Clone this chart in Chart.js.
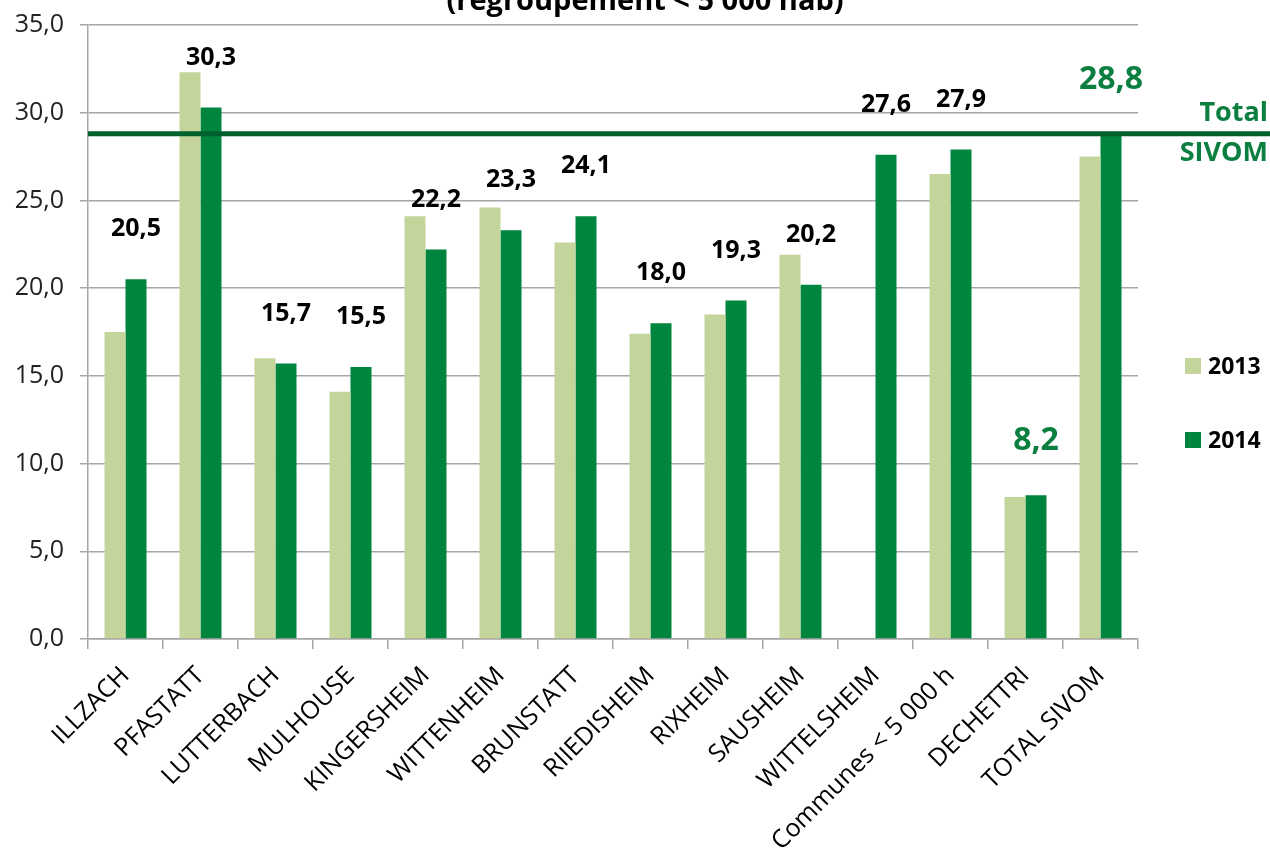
<!DOCTYPE html>
<html>
<head>
<meta charset="utf-8">
<script src="https://cdn.jsdelivr.net/npm/chart.js@4.4.1/dist/chart.umd.min.js"></script>
<style>
  html, body { margin: 0; padding: 0; background: #fff; overflow: hidden; }
  #wrap { position: relative; width: 1270px; height: 864px; }
</style>
</head>
<body>
<div id="wrap"><canvas id="chart"></canvas></div>
<script>
// values
const categories = ['ILLZACH', 'PFASTATT', 'LUTTERBACH', 'MULHOUSE', 'KINGERSHEIM', 'WITTENHEIM',
  'BRUNSTATT', 'RIIEDISHEIM', 'RIXHEIM', 'SAUSHEIM', 'WITTELSHEIM', 'Communes < 5 000 h',
  'DECHETTRI', 'TOTAL SIVOM']
const values2013 = [17.5, 32.3, 16.0, 14.1, 24.1, 24.6, 22.6, 17.4, 18.5, 21.9, null, 26.5, 8.1, 27.5]
const values2014 = [20.5, 30.3, 15.7, 15.5, 22.2, 23.3, 24.1, 18.0, 19.3, 20.2, 27.6, 27.9, 8.2, 28.8]
const seriesNames = ['2013', '2014']
const highlighted = ['DECHETTRI', 'TOTAL SIVOM']
const totalSivom = 28.8
const totalLabel = ['Total', 'SIVOM']
const titleText = '(regroupement < 5 000 hab)'

const light = '#c3d59b'
const dark = '#00853e'
const lineGreen = '#00612e'
const textGreen = '#0b7f3f'
const gridGray = '#a6a6a6'
const fontFamily = '"Open Sans", sans-serif'

const fmt = (v) => v.toFixed(1).replace('.', ',')

// title, total line, value labels and legend
const extras = {
  id: 'extras',
  afterDatasetsDraw(chart) {
    const ctx = chart.ctx
    const area = chart.chartArea
    const y = chart.scales.y
    ctx.save()

    // Total SIVOM line
    const ly = y.getPixelForValue(totalSivom)
    ctx.strokeStyle = lineGreen
    ctx.lineWidth = 5
    ctx.beginPath()
    ctx.moveTo(area.left, ly)
    ctx.lineTo(chart.width, ly)
    ctx.stroke()

    ctx.fillStyle = textGreen
    ctx.font = 'bold 27px ' + fontFamily
    ctx.textAlign = 'right'
    ctx.textBaseline = 'middle'
    ctx.fillText(totalLabel[0], chart.width - 2, ly - 20)
    ctx.fillText(totalLabel[1], chart.width - 2, ly + 20)

    // value labels over the 2014 bars
    const meta = chart.getDatasetMeta(1)
    ctx.textAlign = 'center'
    meta.data.forEach((bar, i) => {
      const hi = highlighted.includes(categories[i])
      ctx.font = hi ? 'bold 32px ' + fontFamily : 'bold 25px ' + fontFamily
      ctx.fillStyle = hi ? textGreen : '#000'
      const dy = hi ? 54 : 50
      ctx.fillText(fmt(values2014[i]), bar.x, bar.y - dy)
    })

    // legend
    ctx.font = 'bold 23px ' + fontFamily
    ctx.textAlign = 'left'
    const colors = [light, dark]
    seriesNames.forEach((name, i) => {
      const cy = 366 + i * 74
      ctx.fillStyle = colors[i]
      ctx.fillRect(area.right + 47, cy - 8, 16, 16)
      ctx.fillStyle = '#000'
      ctx.fillText(name, area.right + 70, cy + 1)
    })

    // title, cut by the top edge
    ctx.font = 'bold 29px ' + fontFamily
    ctx.textAlign = 'center'
    ctx.textBaseline = 'alphabetic'
    ctx.fillStyle = '#000'
    ctx.fillText(titleText, 645, 10)
    ctx.restore()
  },
}

new Chart(document.getElementById('chart'), {
  type: 'bar',
  data: {
    labels: categories,
    datasets: [
      { label: seriesNames[0], data: values2013, backgroundColor: light },
      { label: seriesNames[1], data: values2014, backgroundColor: dark },
    ],
  },
  options: {
    responsive: true,
    maintainAspectRatio: false,
    animation: false,
    categoryPercentage: 0.56,
    barPercentage: 1.0,
    layout: { padding: { top: 25, right: 132, left: 0, bottom: 0 } },
    plugins: {
      legend: { display: false },
      tooltip: { enabled: false },
      title: { display: false },
    },
    scales: {
      x: {
        grid: { drawOnChartArea: false, drawTicks: true, tickLength: 10, color: gridGray, lineWidth: 1.5 },
        border: { color: gridGray, width: 1.5 },
        ticks: {
          minRotation: 45,
          maxRotation: 45,
          autoSkip: false,
          padding: 12,
          color: '#000',
          font: { family: fontFamily, size: 25 },
        },
        afterFit: (scale) => { scale.height = 864 - 639 },
      },
      y: {
        min: 0,
        max: 35,
        grid: { color: gridGray, lineWidth: 1.5, tickLength: 8 },
        border: { color: gridGray, width: 1.5 },
        ticks: {
          stepSize: 5,
          padding: 16,
          color: '#222',
          font: { family: fontFamily, size: 25 },
          callback: (v) => fmt(v),
        },
        afterFit: (scale) => {
          scale.width = 88
          scale.paddingTop = 0
          scale.paddingBottom = 0
        },
      },
    },
  },
  plugins: [extras],
})
</script>
</body>
</html>
